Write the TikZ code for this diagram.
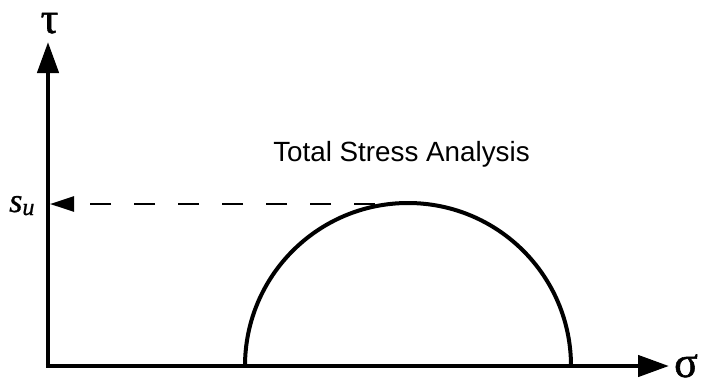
\documentclass[tikz,border=0pt]{standalone}
\usepackage{fontspec}
\setmainfont{Liberation Serif}
\newfontfamily\arialfont{Liberation Sans}
\newfontfamily\greekfont[FakeBold=1.2]{Liberation Serif}
\newfontfamily\sufont[ItalicFeatures={FakeBold=0.8}]{Liberation Serif}
\usetikzlibrary{arrows.meta}
\tikzset{
  axis/.style={line width=4.5pt, -{Triangle[length=31pt,width=21pt]}},
  circ/.style={line width=4pt},
  dashref/.style={line width=2.6pt, dash pattern=on 21pt off 23pt, -{Triangle[length=24pt,width=15pt]}},
  greek/.style={inner sep=0pt, anchor=base, text height=20pt, text depth=0pt, font=\greekfont\fontsize{44}{44}\selectfont},
  title/.style={inner sep=0pt, font=\arialfont\fontsize{27.8}{30}\selectfont}
}
\begin{document}
\begin{tikzpicture}[x=1pt,y=-1pt]
\useasboundingbox (0,0) rectangle (701,381);
\coordinate (O) at (48,366);
\coordinate (ytip) at (48,42);
\coordinate (xtip) at (669,366);
\coordinate (cl) at (245,366);
\coordinate (dstart) at (375,204);
\coordinate (dend) at (50,204);
\draw[axis] (O) -- (ytip);
\draw[axis] ([xshift=-2.25pt]O) -- (xtip);
\draw[circ] (cl) arc[start angle=180, end angle=360, radius=163];
\draw[dashref] (dstart) -- (dend);
\node[greek] (tau) at (49.5,33) {τ};
\node[greek] (sigma) at (686,377) {σ};
\node[inner sep=0pt, anchor=base west, text height=15pt, text depth=3pt] (su) at (9,212) {\sufont\itshape\fontsize{34}{34}\selectfont s\raisebox{-3pt}{\fontsize{24}{24}\selectfont u}};
\node[title, anchor=base] (ttl) at (401.5,161.5) {Total Stress Analysis};
\end{tikzpicture}
\end{document}
